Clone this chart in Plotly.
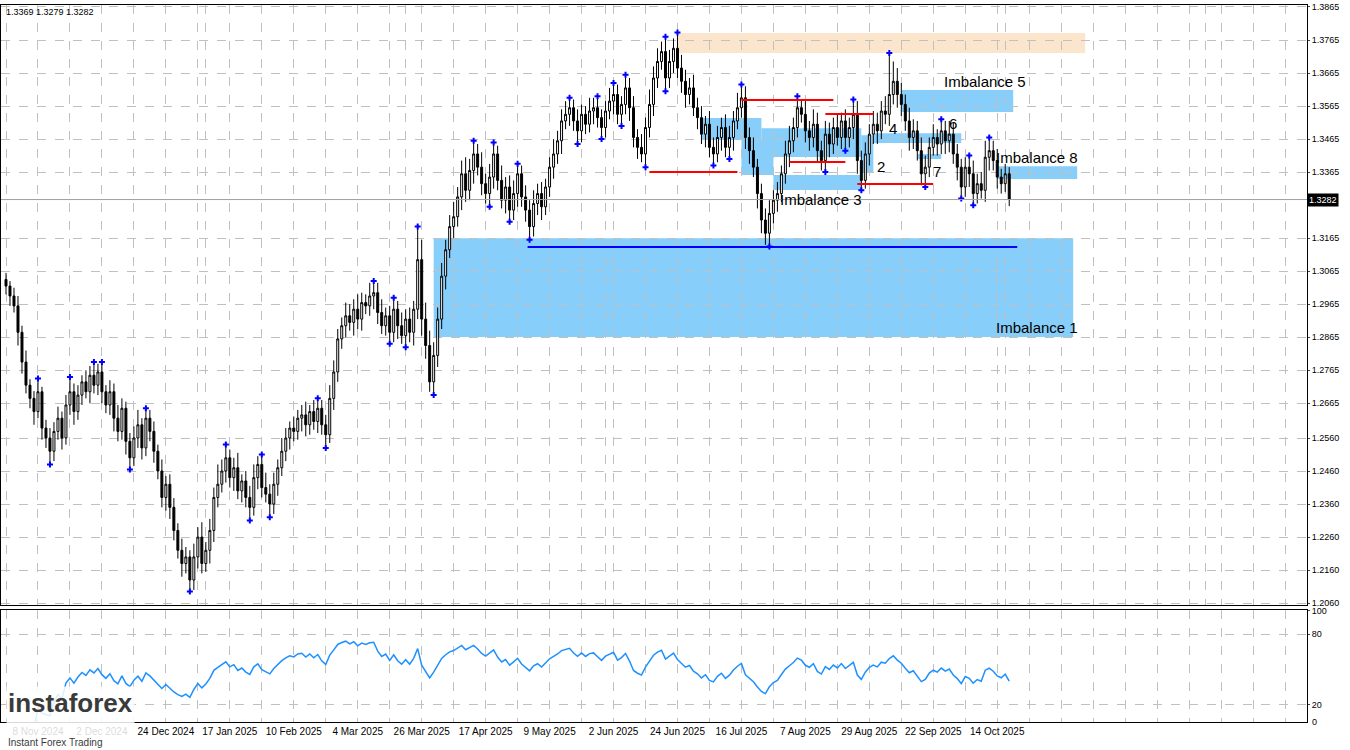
import numpy as np
import pandas as pd
import plotly.graph_objects as go
from plotly.subplots import make_subplots

# daily closes, GBPUSD
closes = [
    1.3020, 1.2990, 1.2960, 1.2880, 1.2790,
    1.2720, 1.2680, 1.2640, 1.2700, 1.2590, 1.2560, 1.2520,
    1.2580, 1.2620, 1.2560, 1.2660, 1.2700, 1.2640, 1.2690, 1.2730, 1.2700, 1.2750, 1.2720, 1.2760,
    1.2700, 1.2660, 1.2700, 1.2620, 1.2580, 1.2650, 1.2550, 1.2500,
    1.2560, 1.2600, 1.2530, 1.2620, 1.2580, 1.2520,
    1.2460, 1.2380, 1.2420, 1.2350, 1.2280, 1.2220, 1.2180, 1.2200, 1.2130,
    1.2200, 1.2260, 1.2180, 1.2220, 1.2280, 1.2380,
    1.2420, 1.2460, 1.2500, 1.2440, 1.2470, 1.2400, 1.2430, 1.2380,
    1.2350, 1.2440, 1.2480, 1.2410, 1.2390, 1.2360, 1.2420,
    1.2470, 1.2520, 1.2560, 1.2590, 1.2580, 1.2620, 1.2630, 1.2600, 1.2640, 1.2610, 1.2650, 1.2600, 1.2570,
    1.2680, 1.2760, 1.2860, 1.2900, 1.2930, 1.2910, 1.2950, 1.2920, 1.2970, 1.2960, 1.2990, 1.3000,
    1.2940, 1.2900, 1.2930, 1.2880, 1.2950, 1.2900, 1.2870, 1.2920, 1.2880, 1.2950, 1.3100,
    1.2920, 1.2840, 1.2730, 1.2810, 1.2920,
    1.3050, 1.3130, 1.3200, 1.3230, 1.3290, 1.3360, 1.3310, 1.3370, 1.3420, 1.3380,
    1.3330, 1.3300, 1.3350, 1.3420, 1.3340, 1.3280, 1.3320, 1.3250, 1.3300, 1.3360, 1.3290, 1.3250, 1.3200,
    1.3270, 1.3300, 1.3260, 1.3320, 1.3380, 1.3420, 1.3460, 1.3520, 1.3540, 1.3560,
    1.3520, 1.3490, 1.3540, 1.3510, 1.3550, 1.3560, 1.3530, 1.3500, 1.3550, 1.3580, 1.3600, 1.3540,
    1.3570, 1.3620, 1.3560, 1.3470, 1.3440,
    1.3420, 1.3500, 1.3570, 1.3650, 1.3700, 1.3730, 1.3650, 1.3700, 1.3740, 1.3680,
    1.3640, 1.3600, 1.3620, 1.3560, 1.3530, 1.3480, 1.3510, 1.3440, 1.3420, 1.3470, 1.3500, 1.3440,
    1.3470, 1.3520, 1.3560, 1.3590, 1.3470, 1.3430,
    1.3380, 1.3300, 1.3220, 1.3180, 1.3240, 1.3280, 1.3300,
    1.3360, 1.3420, 1.3460, 1.3500, 1.3560, 1.3540, 1.3490, 1.3470, 1.3510, 1.3430, 1.3400, 1.3480,
    1.3450, 1.3500, 1.3470, 1.3520, 1.3470, 1.3500, 1.3540, 1.3400, 1.3340, 1.3420,
    1.3480, 1.3510, 1.3490, 1.3550, 1.3540, 1.3600, 1.3640, 1.3600, 1.3570,
    1.3520, 1.3470, 1.3490, 1.3430, 1.3360, 1.3380, 1.3440,
    1.3470, 1.3450, 1.3490, 1.3460, 1.3480, 1.3420, 1.3380, 1.3320, 1.3380,
    1.3360, 1.3300, 1.3330, 1.3310, 1.3410, 1.3430,
    1.3400, 1.3350, 1.3330, 1.3360, 1.3282,
]
first_open = 1.3040

# wick sizes in pips
upper_wick = [
    20, 15, 25, 30, 20, 35, 18, 22, 40, 15, 25, 30,
    28, 35, 20, 30, 45, 25, 30, 20, 35, 28, 40, 25,
    30, 20, 35, 25, 40, 30, 20, 25, 35, 45, 20, 30,
    25, 30, 20, 35, 25, 30, 28, 22, 35, 30, 20, 40,
    30, 45, 25, 35, 30, 60, 35, 40, 25, 30, 45, 20,
    30, 35, 40, 25, 30, 45, 30, 35, 25, 40, 30, 20,
    35, 25, 30, 40, 20, 35, 30, 25, 30, 40, 35, 30,
    25, 40, 35, 30, 45, 30, 25, 40, 35, 30, 40, 25,
    30, 35, 25, 40, 30, 35, 25, 100, 60, 50, 45, 40,
    35, 40, 30, 35, 45, 30, 40, 50, 35, 40, 30, 45,
    30, 40, 35, 25, 45, 30, 35, 40, 30, 25, 35, 30,
    40, 30, 35, 25, 30, 45, 30, 35, 40, 30, 25, 35,
    30, 25, 40, 30, 35, 25, 30, 40, 35, 30, 25, 40,
    30, 35, 25, 40, 30, 45, 35, 40, 30, 45, 35, 30,
    48, 40, 35, 30, 40, 30, 35, 25, 40, 30, 35, 30,
    40, 35, 30, 45, 40, 35, 30, 40, 25, 30, 35, 40,
    30, 35, 25, 40, 45, 30, 35, 25, 40, 30, 45, 35,
    30, 40, 35, 30, 40, 25, 35, 30, 45, 40, 30, 35,
    30, 40, 35, 30, 45, 126, 60, 40, 35, 30, 40, 35,
    30, 40, 35, 30, 40, 25, 35, 30, 40, 35, 30, 25,
    30, 35, 40, 30, 35, 50, 40, 30, 35, 25, 30, 20,
]
lower_wick = [
    25, 30, 20, 40, 35, 25, 30, 40, 20, 35, 30, 40,
    30, 25, 35, 20, 30, 40, 25, 30, 20, 35, 25, 30,
    35, 25, 30, 40, 30, 25, 40, 35, 25, 30, 35, 25,
    30, 35, 25, 30, 40, 35, 30, 25, 40, 30, 35, 30,
    35, 30, 25, 40, 35, 30, 25, 35, 30, 40, 25, 35,
    30, 40, 25, 35, 30, 25, 40, 30, 35, 25, 30, 35,
    30, 25, 40, 35, 30, 25, 35, 30, 40, 25, 35, 30,
    30, 35, 25, 40, 30, 35, 25, 30, 40, 35, 25, 30,
    35, 30, 40, 25, 35, 30, 40, 30, 50, 40, 30, 40,
    35, 30, 40, 25, 35, 30, 40, 35, 30, 40, 25, 35,
    30, 40, 35, 30, 25, 40, 35, 30, 40, 30, 35, 40,
    30, 35, 40, 25, 30, 35, 30, 40, 25, 35, 30, 40,
    35, 30, 25, 40, 30, 35, 30, 25, 40, 30, 35, 30,
    40, 30, 35, 25, 40, 30, 35, 30, 25, 40, 30, 35,
    30, 35, 40, 30, 25, 35, 30, 40, 30, 35, 25, 40,
    30, 35, 40, 25, 30, 35, 40, 30, 45, 40, 35, 40,
    30, 35, 25, 30, 40, 35, 30, 25, 35, 40, 30, 35,
    30, 35, 40, 30, 25, 35, 40, 30, 35, 40, 30, 25,
    35, 30, 40, 25, 30, 35, 30, 40, 35, 30, 40, 35,
    30, 35, 40, 30, 25, 35, 30, 40, 35, 30, 40, 35,
    30, 40, 35, 30, 25, 35, 40, 30, 35, 30, 25, 20,
]

tick_pos = [8, 24, 40, 56, 72, 88, 104, 120, 136, 152, 168, 184, 200, 216, 232, 248]
tick_labels = ["8 Nov 2024", "2 Dec 2024", "24 Dec 2024", "17 Jan 2025", "10 Feb 2025", "4 Mar 2025",
               "26 Mar 2025", "17 Apr 2025", "9 May 2025", "2 Jun 2025", "24 Jun 2025", "16 Jul 2025",
               "7 Aug 2025", "29 Aug 2025", "22 Sep 2025", "14 Oct 2025"]
price_ticks = [1.3865, 1.3765, 1.3665, 1.3565, 1.3465, 1.3365, 1.3165, 1.3065, 1.2965, 1.2865,
               1.2765, 1.2665, 1.2560, 1.2460, 1.2360, 1.2260, 1.2160, 1.2060]

# zones: (bar from, bar to, price low, price high, colour)
zones = [
    (168, 270, 1.3726, 1.3786, "#FBE5CC"),
    (107, 267, 1.2866, 1.3165, "#87CEFA"),
    (224, 252, 1.3547, 1.3614, "#87CEFA"),
    (248, 268, 1.3344, 1.3383, "#87CEFA"),
    (217, 239, 1.3453, 1.3483, "#87CEFA"),
    (228, 234, 1.3405, 1.3420, "#87CEFA"),
    (214, 217, 1.3362, 1.3477, "#87CEFA"),
    (192, 214, 1.3311, 1.3356, "#87CEFA"),
    (189, 214, 1.3411, 1.3498, "#87CEFA"),
    (184, 192, 1.3356, 1.3462, "#87CEFA"),
    (174, 189, 1.3462, 1.3529, "#87CEFA"),
]
# horizontal levels: (bar from, bar to, price, colour)
levels = [
    (161, 183, 1.3365, "red"),
    (184, 207, 1.3583, "red"),
    (196, 210, 1.3396, "red"),
    (205, 217, 1.3541, "red"),
    (213, 232, 1.3329, "red"),
    (130.5, 253, 1.3138, "blue"),
]
labels = [
    (258, 1.2895, "Imbalance 1"), (204, 1.3283, "Imbalance 3"), (245, 1.3640, "Imbalance 5"),
    (258, 1.3408, "Imbalance 8"), (219, 1.3382, "2"), (222, 1.3497, "4"), (237, 1.3512, "6"), (233, 1.3367, "7"),
]

n = len(closes)
x = np.arange(n)
close = np.array(closes)
open_ = np.concatenate([[first_open], close[:-1]])
high = np.maximum(open_, close) + np.array(upper_wick) / 10000
low = np.minimum(open_, close) - np.array(lower_wick) / 10000

# fractals (5 bars)
up_fr, dn_fr = [], []
for i in range(2, n - 2):
    if high[i] == max(high[i - 2:i + 3]):
        up_fr.append(i)
    if low[i] == min(low[i - 2:i + 3]):
        dn_fr.append(i)

# RSI 14
delta = pd.Series(close).diff()
gain = delta.clip(lower=0).ewm(alpha=1 / 14, adjust=True).mean()
loss = (-delta.clip(upper=0)).ewm(alpha=1 / 14, adjust=True).mean()
rsi = 100 - 100 / (1 + gain / loss)

fig = make_subplots(rows=2, cols=1, shared_xaxes=True)

for x0, x1, y0, y1, col in zones:
    fig.add_shape(type="rect", x0=x0, x1=x1, y0=y0, y1=y1, fillcolor=col, line_width=0,
                  layer="below", row=1, col=1)
for x0, x1, y, col in levels:
    fig.add_shape(type="line", x0=x0, x1=x1, y0=y, y1=y, line=dict(color=col, width=2), row=1, col=1)
fig.add_shape(type="line", x0=-2, x1=330, y0=close[-1], y1=close[-1], line=dict(color="#A0A0A0", width=1),
              row=1, col=1)

fig.add_trace(go.Candlestick(
    x=x, open=open_, high=high, low=low, close=close, whiskerwidth=0,
    increasing=dict(fillcolor="white", line=dict(color="black", width=1)),
    decreasing=dict(fillcolor="black", line=dict(color="black", width=1)),
    hoverinfo="skip"), row=1, col=1)
fig.add_trace(go.Scatter(x=x[up_fr], y=high[up_fr], mode="markers",
                         marker=dict(symbol="cross", size=5, color="blue")), row=1, col=1)
fig.add_trace(go.Scatter(x=x[dn_fr], y=low[dn_fr], mode="markers",
                         marker=dict(symbol="cross", size=5, color="blue")), row=1, col=1)
fig.add_trace(go.Scatter(x=x, y=rsi, mode="lines", line=dict(color="#1E90FF", width=1.5)), row=2, col=1)

for xx, yy, t in labels:
    fig.add_annotation(x=xx, y=yy, text=t, showarrow=False, font=dict(size=15, color="black"), row=1, col=1)

grid = dict(showgrid=True, gridcolor="#C0C0C0", griddash="dash", gridwidth=1, zeroline=False,
            showline=True, linecolor="black", linewidth=1, mirror=True)
fig.update_xaxes(**grid, range=[-1.25, 325.5], rangeslider_visible=False,
                 minor=dict(tick0=0, dtick=8, showgrid=True, gridcolor="#C0C0C0", griddash="dash"))
fig.update_xaxes(tickvals=tick_pos, ticktext=tick_labels, tickfont=dict(size=10, color="black"),
                 ticks="", row=2, col=1)
fig.update_yaxes(**grid, side="right", ticks="outside", ticklen=2, tickfont=dict(size=9, color="black"))
fig.update_yaxes(range=[1.2054, 1.3871], tickvals=price_ticks, tickformat=".4f", domain=[0.163, 1.0],
                 row=1, col=1)
fig.update_yaxes(range=[5.6, 100.3], tickvals=[20, 80, 100], domain=[0.0, 0.156], row=2, col=1)

fig.add_annotation(xref="paper", yref="y", x=1.0, y=close[-1], xanchor="left", text="1.3282",
                   showarrow=False, bgcolor="black", font=dict(size=9, color="white"), borderpad=1)
fig.add_annotation(xref="paper", yref="paper", x=1.0, y=0.0, xanchor="left", yanchor="middle", xshift=3,
                   text="0", showarrow=False, font=dict(size=9, color="black"))
fig.add_annotation(xref="paper", yref="paper", x=0.002, y=1.0, xanchor="left", yanchor="top",
                   text="1.3369 1.3279 1.3282", showarrow=False, font=dict(size=9, color="black"))
fig.add_annotation(xref="paper", yref="paper", x=0.004, y=0.0, xanchor="left", yanchor="bottom", yshift=-28,
                   text="<b>instaforex</b><br><span style='font-size:10px'>Instant Forex Trading</span>",
                   showarrow=False, align="left", bgcolor="rgba(255,255,255,0.85)",
                   font=dict(size=26, color="#3A3A3A", family="Arial"))

fig.update_layout(width=1350, height=750, margin=dict(l=1, r=43, t=5, b=28), showlegend=False,
                  plot_bgcolor="white", paper_bgcolor="white",
                  font=dict(family="Liberation Sans, Arial", size=10))
fig.write_html("out.html", config={"displayModeBar": False},
               post_script="document.body.style.margin='0';")
